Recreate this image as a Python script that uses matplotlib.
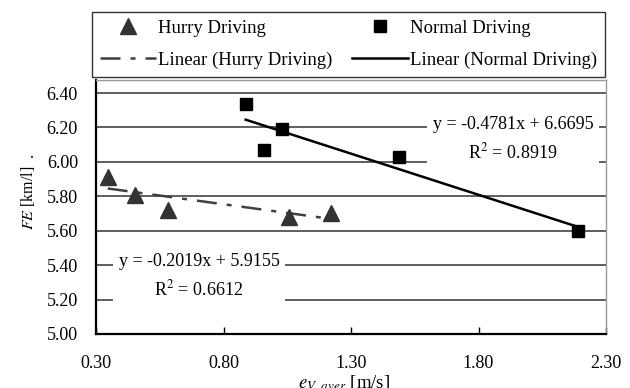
import numpy as np
import matplotlib
matplotlib.use("Agg")
import matplotlib.pyplot as plt

plt.rcParams['font.family'] = ['Liberation Serif', 'DejaVu Serif']
plt.rcParams['mathtext.fontset'] = 'stix'

# dados
hurry_x = [0.346, 0.453, 0.583, 1.056, 1.221]
hurry_y = [5.913, 5.805, 5.722, 5.679, 5.702]
normal_x = [0.887, 0.960, 1.030, 1.490, 2.190]
normal_y = [6.336, 6.070, 6.190, 6.030, 5.600]

# coeficientes das retas (rotulos do grafico)
hurry_fit = [-0.2019, 5.9155]
normal_fit = [-0.4781, 6.6695]
hurry_label = "y = -0.2019x + 5.9155\nR$^2$ = 0.6612"
normal_label = "y = -0.4781x + 6.6695\nR$^2$ = 0.8919"

x_ticks = [0.30, 0.80, 1.30, 1.80, 2.30]
y_ticks = [5.00, 5.20, 5.40, 5.60, 5.80, 6.00, 6.20, 6.40]

fig = plt.figure(figsize=(6.3, 3.88), dpi=100)
ax = fig.add_axes([96 / 630, 1 - 334 / 388, 510 / 630, 254 / 388])

# linhas de grade horizontais
for v in y_ticks[1:]:
    ax.axhline(v, color='#333333', lw=1.1, zorder=1)

# tendencias
xh = np.array([min(hurry_x), max(hurry_x)])
xn = np.array([min(normal_x), max(normal_x)])
lh, = ax.plot(xh, np.polyval(hurry_fit, xh), color='#404040', lw=1.8,
              linestyle=(0, (8, 4, 2, 4)), zorder=3)
ln, = ax.plot(xn, np.polyval(normal_fit, xn), color='black', lw=1.8, zorder=3)

ph, = ax.plot(hurry_x, hurry_y, '^', color='#333333', ms=12, ls='none', zorder=4)
pn, = ax.plot(normal_x, normal_y, 's', color='black', ms=9, ls='none', zorder=4)

# rotulos das equacoes (caixa branca cobre a grade)
ax.text(0.30 + (199 - 96) / 255, 5.0 + (334 - 276) / 172.1, hurry_label,
        ha='center', va='center', fontsize=13, linespacing=1.6,
        bbox=dict(facecolor='white', edgecolor='none', pad=4), zorder=2)
ax.text(0.30 + (513 - 96) / 255, 5.0 + (334 - 139) / 172.1, normal_label,
        ha='center', va='center', fontsize=13, linespacing=1.6,
        bbox=dict(facecolor='white', edgecolor='none', pad=4), zorder=2)

ax.set_xlim(0.30, 2.30)
ax.set_ylim(5.00, 6.476)
ax.set_xticks(x_ticks)
ax.set_xticklabels([f"{v:.2f}" for v in x_ticks])
ax.set_yticks(y_ticks)
ax.set_yticklabels([f"{v:.2f}" for v in y_ticks])
ax.tick_params(axis='x', direction='in', length=5, width=1, pad=15, labelsize=13)
ax.tick_params(axis='y', length=0, pad=13, labelsize=13)

for s in ['left', 'bottom']:
    ax.spines[s].set_color('black')
    ax.spines[s].set_linewidth(1.6)
for s in ['top', 'right']:
    ax.spines[s].set_color('#999999')
    ax.spines[s].set_linewidth(1.0)

fig.text(28 / 630, 1 - 198 / 388, "$FE$ [km/l]", rotation=90,
         ha='center', va='center', fontsize=11.5)
fig.text(29 / 630, 1 - 155 / 388, ".", rotation=90,
         ha='center', va='center', fontsize=12)
fig.text(344 / 630, 1 - 384 / 388, r"$e_{V\_aver}$ [m/s]",
         ha='center', va='center', fontsize=13.5)

leg = fig.legend([ph, lh, pn, ln],
                 ['Hurry Driving', 'Linear (Hurry Driving)',
                  'Normal Driving', 'Linear (Normal Driving)'],
                 ncol=2, loc='upper left',
                 bbox_to_anchor=(92 / 630, 1 - 12 / 388),
                 bbox_transform=fig.transFigure, fontsize=13.5,
                 frameon=True, fancybox=False, edgecolor='black',
                 handlelength=3.0, handletextpad=0.1, borderpad=0.42,
                 labelspacing=0.78, borderaxespad=0, columnspacing=1.05)
leg.get_frame().set_linewidth(1.0)

fig.savefig('out.png', dpi=100)
